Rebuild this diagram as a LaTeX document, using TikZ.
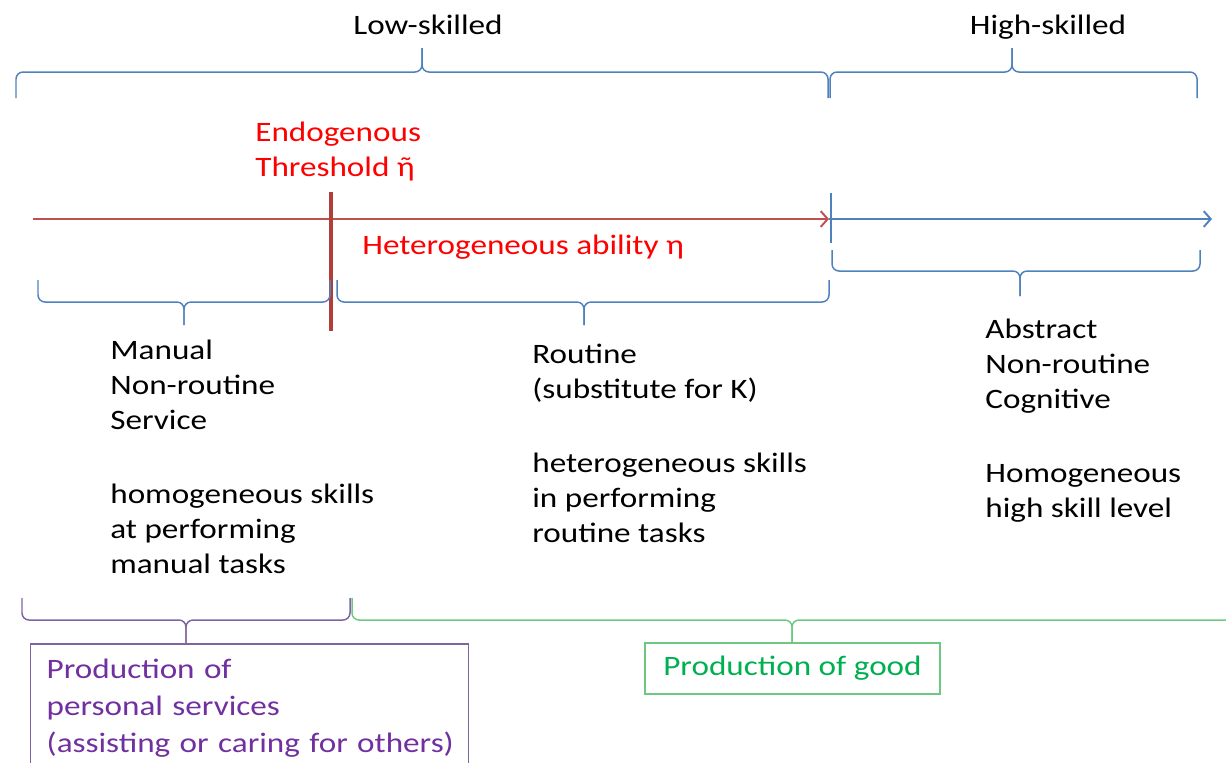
\documentclass[tikz,border=0pt]{standalone}
\usepackage{fontspec}
\setmainfont[FakeStretch=1.18]{Carlito}
\usetikzlibrary{arrows.meta}

\definecolor{braceblue}{RGB}{79,129,189}
\definecolor{axisred}{RGB}{192,80,77}
\definecolor{threshred}{RGB}{178,62,58}
\definecolor{labelred}{RGB}{255,0,0}
\definecolor{svcpurple}{RGB}{112,48,160}
\definecolor{svcline}{RGB}{128,100,162}
\definecolor{goodgreen}{RGB}{0,176,80}
\definecolor{goodline}{RGB}{110,200,130}

% eta with a tilde on top
\newcommand{\etatilde}{\ooalign{η\cr\hidewidth˜\hidewidth\cr}}

% one curly brace: [style]{x left}{x right}{x tip}{y ends}{y line}{y tip}
\newcommand{\skillbrace}[7][]{%
  \draw[braceline,#1] (#2,#5) -- (#2,#6) -- (#4,#6) -- (#4,#7);
  \draw[braceline,#1] (#3,#5) -- (#3,#6) -- (#4,#6) -- (#4,#7);
}

\begin{document}
\begin{tikzpicture}[x=0.02cm,y=-0.02cm,
    every node/.style={inner sep=0pt, font=\fontsize{16pt}{19.92pt}\selectfont},
    braceline/.style={braceblue, line width=0.85pt, rounded corners=4pt},
    axis/.style={line width=1.1pt, -{Straight Barb[length=4pt,width=9pt]}},
    tasktext/.style={anchor=north west, align=left},
    redtext/.style={text=labelred}]
    \useasboundingbox (0,0) rectangle (1226,762);
    \clip (0,0) rectangle (1226,762);

    % skill groups on top
    \skillbrace{16}{828}{422}{98}{72}{48}
    \skillbrace{830}{1197}{1012}{98}{72}{48}
    \node (lowlab) [anchor=base] at (428,34) {Low-skilled};
    \node (highlab) [anchor=base] at (1048,34) {High-skilled};

    % ability axis
    \coordinate (axstart) at (33,219);
    \coordinate (axmid) at (829,219);
    \coordinate (axend) at (1212,219);
    \draw[axis, axisred] (axstart) -- (axmid);
    \draw[axis, braceblue] (axmid) -- (axend);
    \draw[braceblue, line width=1.1pt] (831,193) -- (831,243);
    \draw[threshred, line width=2.2pt] (331,192) -- (331,331);

    \node (thrlab) [tasktext, redtext] at (255,122) {Endogenous\\Threshold \etatilde};
    \node (ablab) [anchor=base west, redtext] at (362,254) {Heterogeneous ability η};

    % task groups
    \skillbrace{38}{330}{184}{280}{302}{325}
    \skillbrace{337}{829}{584}{280}{302}{325}
    \skillbrace{832}{1200}{1020}{250}{271}{296}

    \node (manual) [tasktext] at (110,340)
      {Manual\\Non-routine\\Service\\[22pt]homogeneous skills\\at performing\\manual tasks};
    \node (routine) [tasktext] at (532,344)
      {Routine\\(substitute for K)\\[22pt]heterogeneous skills\\in performing\\routine tasks};
    \node (abstract) [tasktext] at (985,319)
      {Abstract\\Non-routine\\Cognitive\\[22pt]Homogeneous\\high skill level};

    % production sectors
    \node (svcbox) [draw=svcline, line width=0.85pt, text=svcpurple, anchor=north west,
      align=left, text width=8.12cm, inner xsep=0.32cm, inner ysep=0.3cm,
      font=\fontsize{16pt}{21pt}\selectfont] at (30,643)
      {Production of\\personal services\\\mbox{(assisting or caring for others)}};
    \node (goodbox) [draw=goodline, line width=0.85pt, text=goodgreen,
      minimum width=5.9cm, minimum height=1.02cm] at (792.5,668.5) {Production of good};

    \skillbrace[svcline]{22}{350}{186}{598}{620}{643}
    \skillbrace[goodline]{352}{1240}{792}{598}{620}{643}
\end{tikzpicture}
\end{document}
